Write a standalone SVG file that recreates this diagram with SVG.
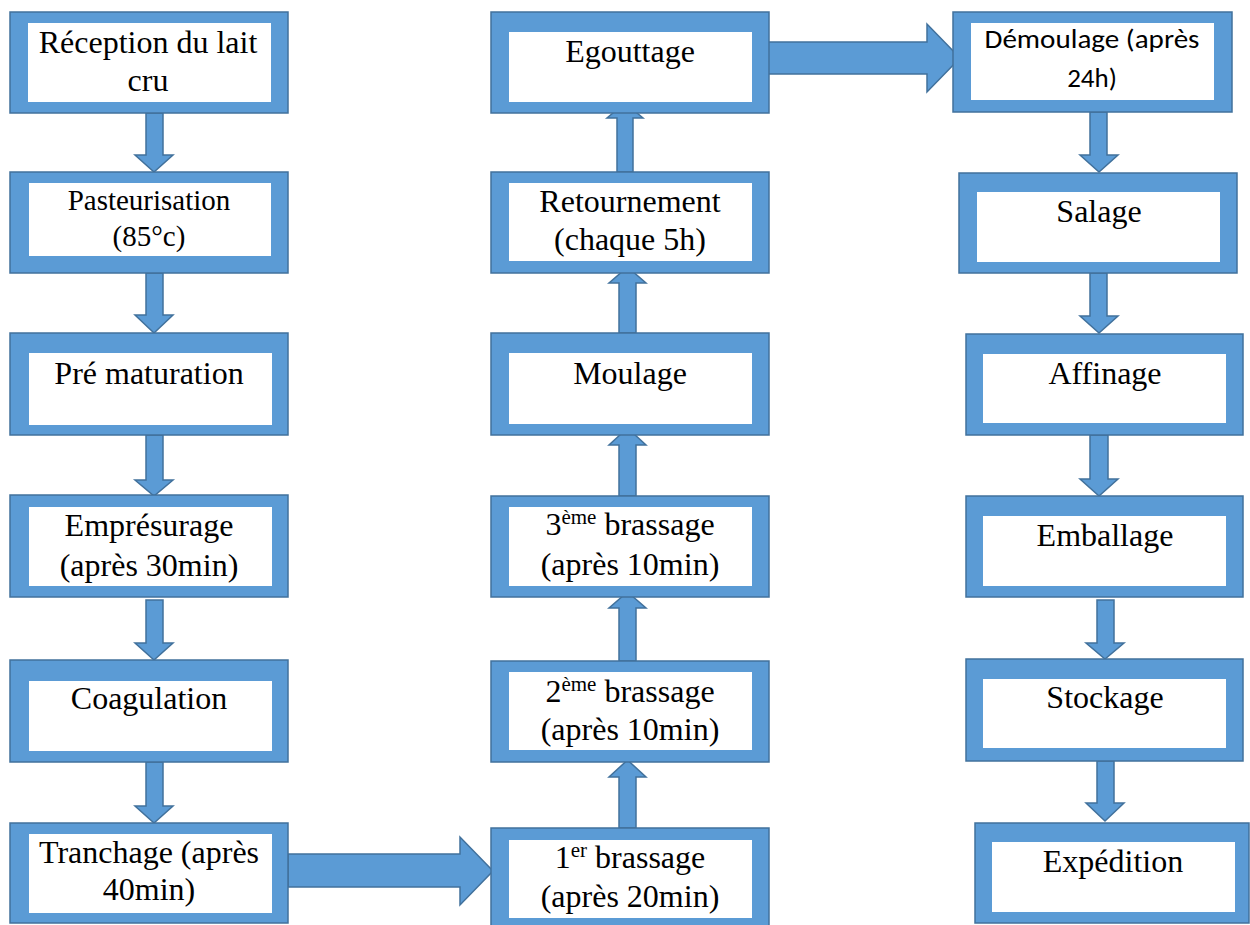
<svg xmlns="http://www.w3.org/2000/svg" width="1250" height="925" viewBox="0 0 1250 925">
<style>
.o{fill:#5B9BD5;stroke:#41719C;stroke-width:1.5}
.i{fill:#FFFFFF}
.t{font-family:"Liberation Serif","Times New Roman",serif;font-size:32px;fill:#000;text-anchor:middle}
.tp{font-family:"Liberation Serif","Times New Roman",serif;font-size:29px;fill:#000;text-anchor:middle}
.sup{font-family:"Liberation Serif","Times New Roman",serif;font-size:21px}
.s{font-family:"Carlito","Lato",sans-serif;font-size:27px;fill:#000;text-anchor:middle}
.a{fill:#5B9BD5;stroke:#41719C;stroke-width:1.5;stroke-linejoin:miter}
</style>
<rect width="1250" height="925" fill="#FFFFFF"/>
<g id="connectors">
<polygon class="a" points="146,113 163,113 163,155 173,155 154,172 135,155 146,155"/>
<polygon class="a" points="146,273 163,273 163,315 173,315 154,333 135,315 146,315"/>
<polygon class="a" points="146,435 163,435 163,480 173,480 154,496 135,480 146,480"/>
<polygon class="a" points="146,600 163,600 163,643 173,643 154,660 135,643 146,643"/>
<polygon class="a" points="146,762 163,762 163,806 173,806 154,823 135,806 146,806"/>
<polygon class="a" points="288,854 460,854 460,837 493,871 460,905 460,887 288,887"/>
<polygon class="a" points="619,828 619,777 609,777 627.5,760 646,777 636,777 636,828"/>
<polygon class="a" points="619,661 619,608 609,608 627.5,592 646,608 636,608 636,661"/>
<polygon class="a" points="619,496 619,445 609,445 627.5,428 646,445 636,445 636,496"/>
<polygon class="a" points="619,333 619,283 609,283 627.5,267 646,283 636,283 636,333"/>
<polygon class="a" points="617,172 617,118 607,118 625,103 643,118 633,118 633,172"/>
<polygon class="a" points="768,42 927,42 927,24 960,58 927,92 927,74 768,74"/>
<polygon class="a" points="1090,112 1107,112 1107,155 1118,155 1099,172 1080,155 1090,155"/>
<polygon class="a" points="1090,273 1107,273 1107,316 1118,316 1099,333 1080,316 1090,316"/>
<polygon class="a" points="1090,435 1108,435 1108,479 1118,479 1099,496 1080,479 1090,479"/>
<polygon class="a" points="1097,600 1114,600 1114,643 1124,643 1105,659 1086,643 1097,643"/>
<polygon class="a" points="1097,761 1114,761 1114,803 1124,803 1105,821 1086,803 1097,803"/>
</g>
<g id="n-reception">
<rect class="o" x="10" y="12" width="278" height="101"/>
<rect class="i" x="28" y="23" width="243" height="79"/>
<text class="t" x="148" y="53">Réception du lait</text>
<text class="t" x="148" y="91">cru</text>
</g>
<g id="n-pasteurisation">
<rect class="o" x="10" y="172" width="278" height="101"/>
<rect class="i" x="29" y="183" width="242" height="73"/>
<text class="tp" x="149" y="210">Pasteurisation</text>
<text class="tp" x="149" y="246">(85°c)</text>
</g>
<g id="n-prematuration">
<rect class="o" x="10" y="333" width="278" height="102"/>
<rect class="i" x="29" y="353" width="243" height="72"/>
<text class="t" x="149" y="384">Pré maturation</text>
</g>
<g id="n-empresurage">
<rect class="o" x="10" y="495" width="278" height="102"/>
<rect class="i" x="29" y="507" width="243" height="79"/>
<text class="t" x="149" y="536">Emprésurage</text>
<text class="t" x="149" y="576">(après 30min)</text>
</g>
<g id="n-coagulation">
<rect class="o" x="10" y="660" width="278" height="102"/>
<rect class="i" x="29" y="681" width="243" height="70"/>
<text class="t" x="149" y="709">Coagulation</text>
</g>
<g id="n-tranchage">
<rect class="o" x="10" y="823" width="278" height="100"/>
<rect class="i" x="29" y="834" width="243" height="79"/>
<text class="t" x="149" y="863">Tranchage (après</text>
<text class="t" x="149" y="900">40min)</text>
</g>
<g id="n-egouttage">
<rect class="o" x="491" y="12" width="278" height="101"/>
<rect class="i" x="509" y="32" width="243" height="70"/>
<text class="t" x="630" y="62">Egouttage</text>
</g>
<g id="n-retournement">
<rect class="o" x="491" y="172" width="278" height="101"/>
<rect class="i" x="509" y="183" width="243" height="78"/>
<text class="t" x="630" y="212">Retournement</text>
<text class="t" x="630" y="250">(chaque 5h)</text>
</g>
<g id="n-moulage">
<rect class="o" x="491" y="333" width="278" height="102"/>
<rect class="i" x="509" y="353" width="243" height="71"/>
<text class="t" x="630" y="384">Moulage</text>
</g>
<g id="n-brassage3">
<rect class="o" x="491" y="496" width="278" height="101"/>
<rect class="i" x="509" y="507" width="243" height="79"/>
<text class="t" x="630" y="535">3<tspan class="sup" dy="-11">ème</tspan><tspan dy="11"> brassage</tspan></text>
<text class="t" x="630" y="575">(après 10min)</text>
</g>
<g id="n-brassage2">
<rect class="o" x="491" y="661" width="278" height="101"/>
<rect class="i" x="509" y="672" width="243" height="78"/>
<text class="t" x="630" y="702">2<tspan class="sup" dy="-11">ème</tspan><tspan dy="11"> brassage</tspan></text>
<text class="t" x="630" y="740">(après 10min)</text>
</g>
<g id="n-brassage1">
<rect class="o" x="491" y="828" width="278" height="102"/>
<rect class="i" x="509" y="840" width="243" height="78"/>
<text class="t" x="630" y="868">1<tspan class="sup" dy="-11">er</tspan><tspan dy="11"> brassage</tspan></text>
<text class="t" x="630" y="907">(après 20min)</text>
</g>
<g id="n-demoulage">
<rect class="o" x="953" y="12" width="279" height="100"/>
<rect class="i" x="971" y="23" width="243" height="77"/>
<text class="s" x="1092" y="48" textLength="215" lengthAdjust="spacingAndGlyphs">Démoulage (après</text>
<text class="s" x="1092" y="87">24h)</text>
</g>
<g id="n-salage">
<rect class="o" x="959" y="173" width="278" height="100"/>
<rect class="i" x="977" y="192" width="243" height="70"/>
<text class="t" x="1099" y="222">Salage</text>
</g>
<g id="n-affinage">
<rect class="o" x="966" y="334" width="277" height="101"/>
<rect class="i" x="983" y="354" width="243" height="69"/>
<text class="t" x="1105" y="384">Affinage</text>
</g>
<g id="n-emballage">
<rect class="o" x="966" y="496" width="277" height="101"/>
<rect class="i" x="983" y="516" width="243" height="70"/>
<text class="t" x="1105" y="546">Emballage</text>
</g>
<g id="n-stockage">
<rect class="o" x="966" y="659" width="277" height="102"/>
<rect class="i" x="983" y="679" width="243" height="69"/>
<text class="t" x="1105" y="708">Stockage</text>
</g>
<g id="n-expedition">
<rect class="o" x="975" y="823" width="274" height="100"/>
<rect class="i" x="992" y="842" width="243" height="70"/>
<text class="t" x="1113" y="872">Expédition</text>
</g>
</svg>
